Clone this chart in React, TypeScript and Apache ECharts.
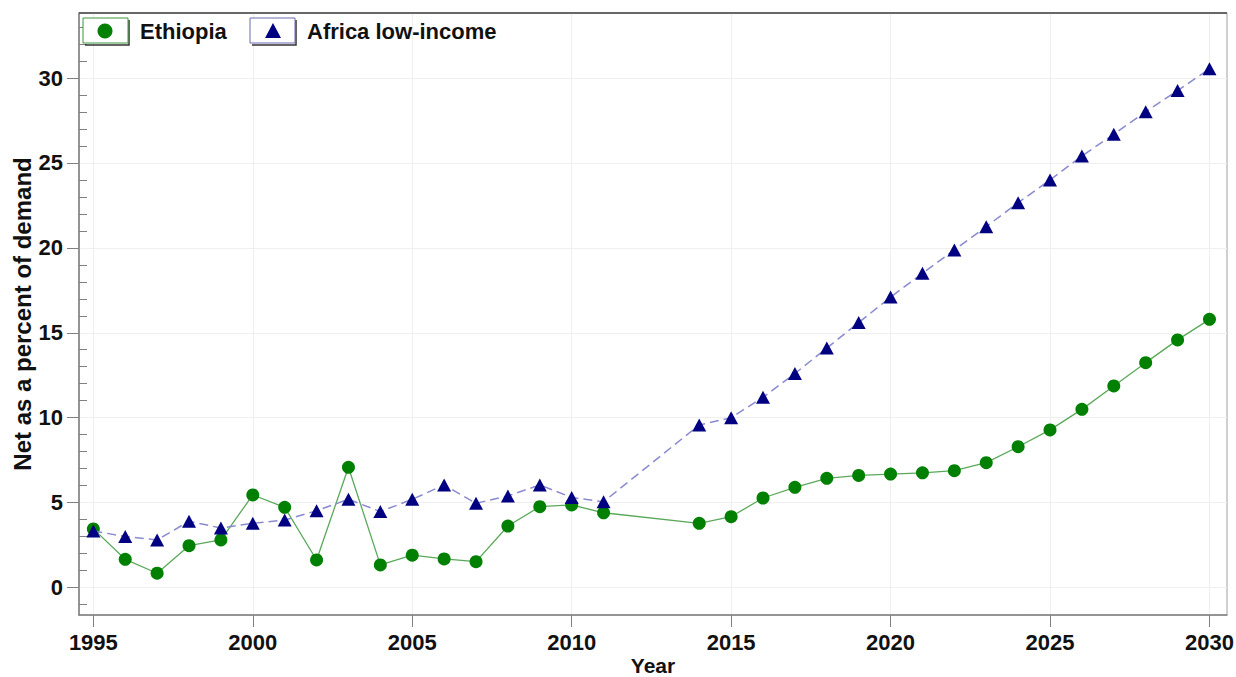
import React, { useEffect, useRef } from "react";
import * as echarts from "echarts";

// Years with data (2012 and 2013 are not reported; the lines join 2011 to 2014)
const years = [
  1995, 1996, 1997, 1998, 1999, 2000, 2001, 2002, 2003, 2004, 2005, 2006, 2007, 2008, 2009, 2010, 2011,
  2014, 2015, 2016, 2017, 2018, 2019, 2020, 2021, 2022, 2023, 2024, 2025, 2026, 2027, 2028, 2029, 2030,
];

// Net as a percent of demand
const ethiopia = [
  3.45, 1.66, 0.84, 2.46, 2.8, 5.45, 4.72, 1.62, 7.08, 1.33, 1.9, 1.68, 1.52, 3.62, 4.76, 4.86, 4.4,
  3.78, 4.17, 5.27, 5.9, 6.43, 6.6, 6.68, 6.75, 6.88, 7.35, 8.29, 9.28, 10.49, 11.87, 13.24, 14.58, 15.79,
];
const africaLowIncome = [
  3.33, 3.0, 2.8, 3.9, 3.5, 3.78, 3.97, 4.52, 5.19, 4.47, 5.19, 6.04, 4.96, 5.39, 6.04, 5.3, 5.05,
  9.57, 10.0, 11.2, 12.6, 14.1, 15.6, 17.1, 18.5, 19.88, 21.25, 22.66, 24.0, 25.41, 26.69, 28.02, 29.26, 30.54,
];

const xTickYears = [1995, 2000, 2005, 2010, 2015, 2020, 2025, 2030];
const yTickValues = [0, 5, 10, 15, 20, 25, 30];
const yMinorValues = [-1, 1, 2, 3, 4, 6, 7, 8, 9, 11, 12, 13, 14, 16, 17, 18, 19, 21, 22, 23, 24, 26, 27, 28, 29, 31, 32, 33];

const X_MIN = 1994.55;
const X_MAX = 2030.55;
const Y_MIN = -1.62;
const Y_MAX = 33.83;

const FONT = "'Liberation Sans', Arial, sans-serif";
const GREEN = "#008000";
const NAVY = "#000080";

export default function App() {
  const ref = useRef<HTMLDivElement>(null);

  useEffect(() => {
    if (!ref.current) return;
    const chart = echarts.init(ref.current, null, { renderer: "svg" });

    const pairs = (vals: number[]) => years.map((y, i) => [y, vals[i]]);

    const legendY = 31;
    const legendItem = (x: number, stroke: string, marker: any, label: string) => [
      {
        type: "polyline",
        shape: { points: [[x + 2, legendY + 14], [x + 46, legendY + 14], [x + 46, legendY - 11]] },
        style: { stroke: "#333", lineWidth: 1.5, fill: null },
        z: 10,
      },
      {
        type: "rect",
        shape: { x, y: legendY - 13, width: 45, height: 25 },
        style: { fill: "#fff", stroke, lineWidth: 1 },
        z: 11,
      },
      { ...marker, z: 12 },
      {
        type: "text",
        x: x + 57,
        y: legendY,
        style: {
          text: label,
          fill: "#111",
          font: `bold 22px ${FONT}`,
          textVerticalAlign: "middle",
          textAlign: "left",
        },
        z: 12,
      },
    ];

    chart.setOption({
      animation: false,
      backgroundColor: "#fff",
      grid: {
        left: 79,
        right: 9,
        top: 13,
        bottom: 62,
        show: true,
        borderColor: "#a0a0a0",
        borderWidth: 1,
        containLabel: false,
        outerBoundsMode: "none",
      },
      xAxis: {
        type: "value",
        min: X_MIN,
        max: X_MAX,
        name: "Year",
        nameLocation: "middle",
        nameGap: 40,
        nameMoveOverlap: false,
        nameTextStyle: { fontFamily: FONT, fontWeight: "bold", fontSize: 21, color: "#111" },
        axisLine: { show: true, onZero: false, lineStyle: { color: "#808080", width: 1.5 } },
        axisTick: { show: true, length: 12, customValues: xTickYears, lineStyle: { color: "#808080" } },
        axisLabel: {
          customValues: xTickYears,
          margin: 16,
          fontFamily: FONT,
          fontWeight: "bold",
          fontSize: 22,
          color: "#111",
          formatter: (v: number) => String(v),
        },
        splitLine: { show: true, lineStyle: { color: "#efefef", width: 1 } },
      },
      yAxis: [
        {
          type: "value",
          min: Y_MIN,
          max: Y_MAX,
          name: "Net as a percent of demand",
          nameLocation: "middle",
          nameGap: 45,
          nameMoveOverlap: false,
          nameTextStyle: { fontFamily: FONT, fontWeight: "bold", fontSize: 24, color: "#111" },
          axisLine: { show: true, onZero: false, lineStyle: { color: "#808080", width: 1.5 } },
          axisTick: { show: true, length: 12, customValues: yTickValues, lineStyle: { color: "#808080" } },
          axisLabel: {
            customValues: yTickValues,
            margin: 16,
            fontFamily: FONT,
            fontWeight: "bold",
            fontSize: 22,
            color: "#111",
            formatter: (v: number) => String(v),
          },
          splitLine: { show: true, lineStyle: { color: "#efefef", width: 1 } },
        },
        {
          // minor ticks on the inside of the left axis
          type: "value",
          position: "left",
          min: Y_MIN,
          max: Y_MAX,
          axisLine: { show: false },
          axisTick: { show: true, inside: true, length: 8, customValues: yMinorValues, lineStyle: { color: "#808080" } },
          axisLabel: { show: false },
          splitLine: { show: false },
        },
      ],
      series: [
        {
          name: "Ethiopia",
          type: "line",
          data: pairs(ethiopia),
          symbol: "circle",
          symbolSize: 13,
          itemStyle: { color: GREEN },
          lineStyle: { color: "#5aa95a", width: 1.3 },
          z: 3,
        },
        {
          name: "Africa low-income",
          type: "line",
          data: pairs(africaLowIncome),
          symbol: "triangle",
          symbolSize: [14, 13],
          itemStyle: { color: NAVY },
          lineStyle: { color: "#8a8ad0", width: 1.5, type: [9, 5] },
          z: 4,
        },
      ],
      graphic: [
        // darker top border of the plot box
        {
          type: "line",
          shape: { x1: 79, y1: 13, x2: 1227, y2: 13 },
          style: { stroke: "#444", lineWidth: 1.5 },
          z: 9,
        },
        ...legendItem(83, "#3c963c", {
          type: "circle",
          shape: { cx: 105, cy: legendY, r: 7.5 },
          style: { fill: GREEN },
        }, "Ethiopia"),
        ...legendItem(250, "#6a6ab0", {
          type: "polygon",
          shape: { points: [[273, legendY - 8], [265, legendY + 7], [281, legendY + 7]] },
          style: { fill: NAVY },
        }, "Africa low-income"),
      ],
    });

    return () => chart.dispose();
  }, []);

  return (
    <div
      ref={ref}
      style={{ position: "absolute", left: 0, top: 0, width: 1236, height: 677, background: "#fff" }}
    />
  );
}
